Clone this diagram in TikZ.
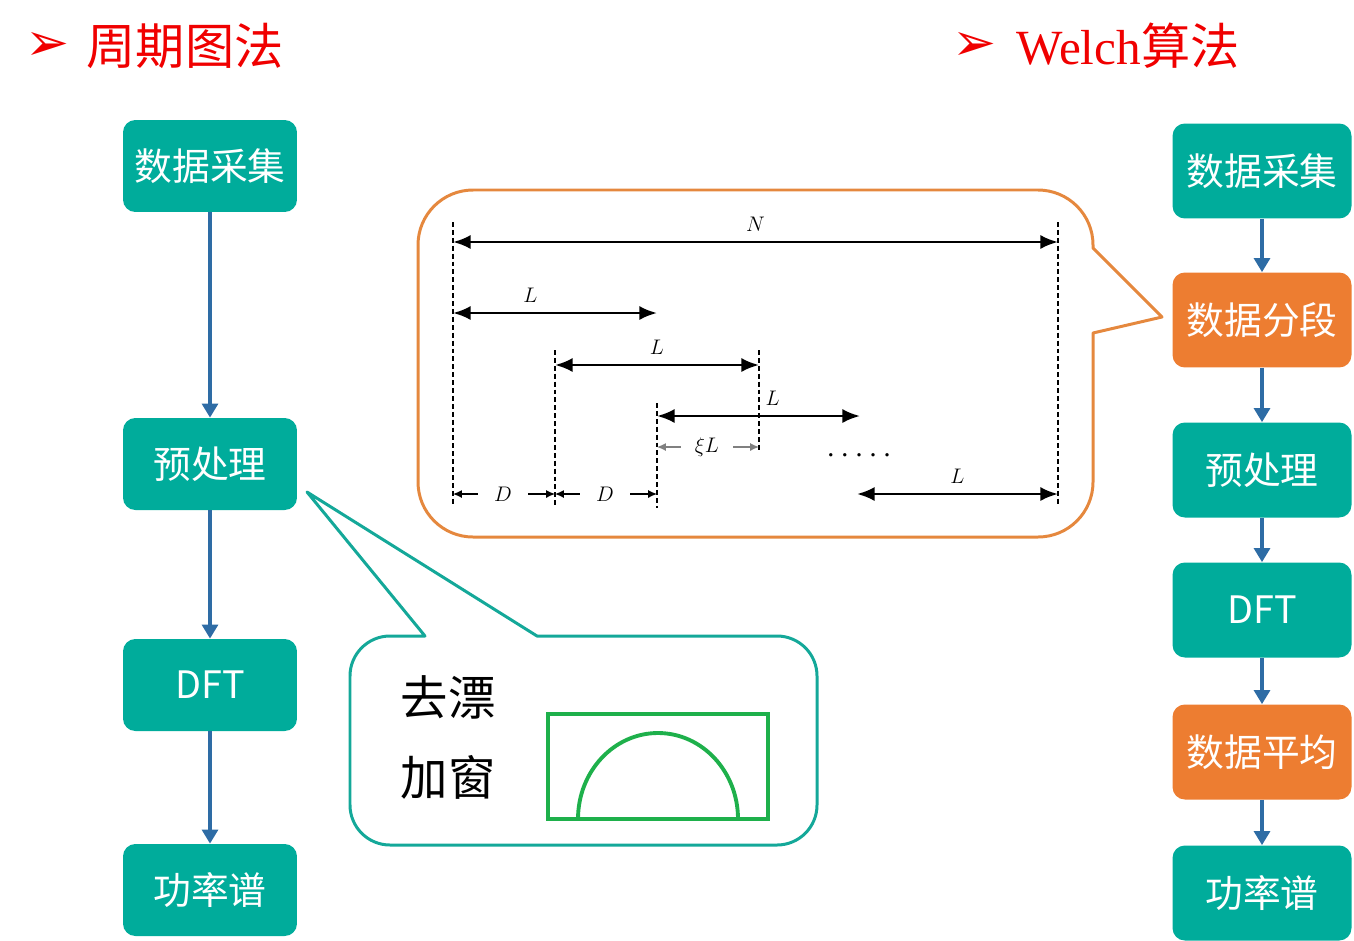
\documentclass[tikz,border=0pt]{standalone}
\usepackage{fontspec}
\setmainfont{Liberation Serif}
\newfontfamily\cjk{Noto Sans CJK SC}
\newfontfamily\symb{DejaVu Sans}
\usetikzlibrary{arrows.meta}

\definecolor{stagegreen}{RGB}{0,172,155}
\definecolor{stageorange}{RGB}{237,125,49}
\definecolor{flowblue}{RGB}{46,108,165}
\definecolor{calloutorange}{RGB}{229,136,62}
\definecolor{callouteal}{RGB}{20,168,153}
\definecolor{wingreen}{RGB}{30,176,75}
\definecolor{titlered}{RGB}{240,0,0}

\tikzset{
  stage/.style={fill=stagegreen, text=white, rounded corners=7pt, inner sep=0pt,
    minimum width=3.48cm, minimum height=1.84cm, font=\cjk\fontsize{21.5}{25}\selectfont},
  wstage/.style={stage, minimum width=3.58cm, minimum height=1.9cm},
  hot/.style={fill=stageorange},
  flow/.style={draw=flowblue, line width=2.3pt, -{Triangle[length=8pt,width=9pt]}},
  cut/.style={dash pattern=on 2.8pt off 1.7pt, line width=1pt},
  span/.style={line width=1.5pt, {Latex[length=10pt,width=8pt]}-{Latex[length=10pt,width=8pt]}},
  tick/.style={line width=0.7pt, -{Latex[length=5pt,width=4.5pt]}},
  lbl/.style={font=\fontsize{11.5}{13}\selectfont},
  title/.style={text=titlered, font=\fontsize{28}{32}\selectfont},
}

\begin{document}
\begin{tikzpicture}[x=0.02cm, y=-0.02cm]
  \useasboundingbox (0,0) rectangle (1354,940);

  % titles
  \node[title] (bul1) at (48,46) {\symb\fontsize{30}{32}\selectfont ➢};
  \node[title] (ttl1) at (185,46) {\cjk 周期图法};
  \node[title] (bul2) at (975,46) {\symb\fontsize{30}{32}\selectfont ➢};
  \node[title] (ttl2) at (1128,46) {Welch{\cjk 算法}};

  % periodogram chain
  \node[stage] (p1) at (210,166) {数据采集};
  \node[stage] (p2) at (210,464) {预处理};
  \node[stage] (p3) at (210,685) {DFT};
  \node[stage] (p4) at (210,890) {功率谱};

  % welch chain
  \node[wstage] (w1) at (1262,171) {数据采集};
  \node[wstage,hot] (w2) at (1262,320) {数据分段};
  \node[wstage] (w3) at (1262,470) {预处理};
  \node[wstage] (w4) at (1262,610) {DFT};
  \node[wstage,hot] (w5) at (1262,752) {数据平均};
  \node[wstage] (w6) at (1262,893) {功率谱};

  \begin{scope}[flow]
    \draw (p1) to (p2);
    \draw (p2) to (p3);
    \draw (p3) to (p4);
    \draw (w1) to (w2);
    \draw (w2) to (w3);
    \draw (w3) to (w4);
    \draw (w4) to (w5);
    \draw (w5) to (w6);
  \end{scope}

  % segmenting callout
  \draw[calloutorange, line width=1.7pt, line join=round]
    (1093,333) -- (1093,482) arc[start angle=0, end angle=90, radius=55]
    -- (473,537) arc[start angle=90, end angle=180, radius=55]
    -- (418,245) arc[start angle=180, end angle=270, radius=55]
    -- (1038,190) arc[start angle=270, end angle=360, radius=55]
    -- (1093,248) -- (1162,317) -- cycle;

  % guide lines
  \foreach \n/\x/\a/\b in {0/453/222/505, 1/555/350/508, 2/657/403/508, 3/759/350/452, 4/1058/222/505}{
    \coordinate (t\n) at (\x,\a);
    \coordinate (b\n) at (\x,\b);
    \draw[cut] (t\n) -- (b\n);
  }

  \coordinate (N1) at (453,242); \coordinate (N2) at (1058,242);
  \coordinate (La1) at (453,313); \coordinate (La2) at (657,313);
  \coordinate (Lb1) at (555,365); \coordinate (Lb2) at (759,365);
  \coordinate (Lc1) at (657,416); \coordinate (Lc2) at (860,416);
  \coordinate (Ld1) at (857,494); \coordinate (Ld2) at (1058,494);

  \draw[span] (N1) -- node[lbl, above=2pt] (lN) {$N$} (N2);
  \draw[span] (La1) -- node[lbl, above=2pt, xshift=-14pt] (lLa) {$L$} (La2);
  \draw[span] (Lb1) -- node[lbl, above=2pt] (lLb) {$L$} (Lb2);
  \draw[span] (Lc1) -- node[lbl, above=2pt, xshift=8pt] (lLc) {$L$} (Lc2);
  \draw[span] (Ld1) -- node[lbl, above=2pt] (lLd) {$L$} (Ld2);

  \node[lbl, inner xsep=9pt] (D1) at (503,494) {$D$};
  \node[lbl, inner xsep=9pt] (D2) at (605,494) {$D$};
  \node[lbl, inner xsep=8pt] (xi) at (707,447) {$\xi L$};
  \draw[tick] (D1) -- (t0 |- D1);
  \draw[tick] (D1) -- (t1 |- D1);
  \draw[tick] (D2) -- (t1 |- D2);
  \draw[tick] (D2) -- (t2 |- D2);
  \draw[tick, gray] (xi) -- (t2 |- xi);
  \draw[tick, gray] (xi) -- (t3 |- xi);
  \node[font=\fontsize{16}{16}\selectfont] (dots) at (859,455) {.\hspace{4pt}.\hspace{4pt}.\hspace{4pt}.\hspace{4pt}.};

  % preprocessing callout
  \draw[callouteal, line width=1.7pt, line join=round]
    (425,636) -- (307,492) -- (537,636)
    -- (777,636) arc[start angle=270, end angle=360, radius=40]
    -- (817,805) arc[start angle=0, end angle=90, radius=40]
    -- (390,845) arc[start angle=90, end angle=180, radius=40]
    -- (350,676) arc[start angle=180, end angle=270, radius=40] -- cycle;
  \node[font=\cjk\fontsize{27}{30}\selectfont] (drift) at (448,697) {去漂};
  \node[font=\cjk\fontsize{27}{30}\selectfont] (window) at (448,777) {加窗};
  \draw[wingreen, line width=2.2pt] (548,714) rectangle (768,819);
  \draw[wingreen, line width=2.2pt] (578,819) arc[start angle=180, end angle=360, x radius=80, y radius=86];
\end{tikzpicture}
\end{document}
